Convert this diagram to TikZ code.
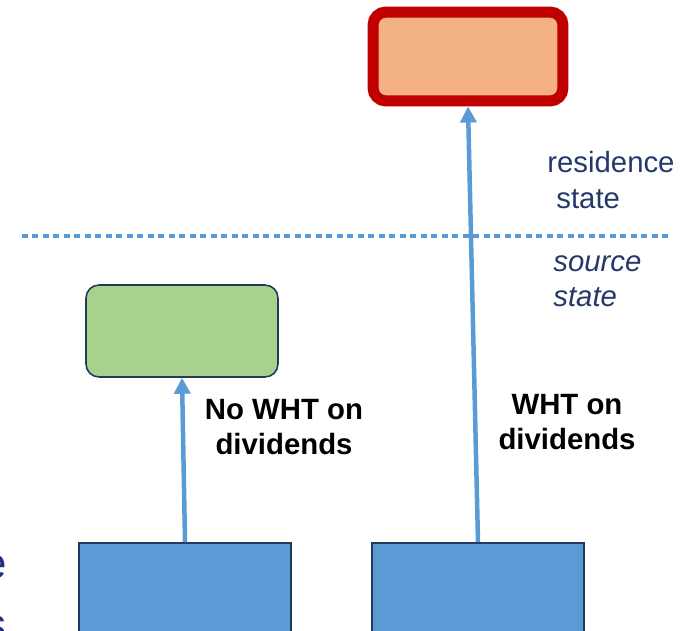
\documentclass[tikz,border=0pt]{standalone}
\usepackage{fontspec}
\setmainfont{Liberation Sans}
\usetikzlibrary{positioning,calc}
\usetikzlibrary{arrows.meta}
\definecolor{ResRed}{RGB}{192,0,0}
\definecolor{ResPeach}{RGB}{244,177,131}
\definecolor{SrcGreen}{RGB}{169,209,142}
\definecolor{CoBlue}{RGB}{91,155,213}
\definecolor{EdgeNavy}{RGB}{34,58,94}
\definecolor{TxtNavy}{RGB}{36,56,106}
\definecolor{CutBlue}{RGB}{30,48,130}
\tikzset{
	resbox/.style={draw=ResRed,fill=ResPeach,line width=0.22cm,rounded corners=0.26cm,
		minimum width=3.8cm,minimum height=1.78cm,inner sep=0pt},
	srcbox/.style={draw=EdgeNavy,fill=SrcGreen,line width=0.9pt,rounded corners=0.26cm,
		minimum width=3.84cm,minimum height=1.84cm,inner sep=0pt},
	cobox/.style={draw=EdgeNavy,fill=CoBlue,line width=1.1pt,
		minimum width=4.24cm,minimum height=2.34cm,inner sep=0pt},
	flow/.style={draw=CoBlue,line width=0.09cm,-{Triangle[length=0.32cm,width=0.32cm]}},
	border/.style={draw=CoBlue,line width=0.08cm,dash pattern=on 0.12cm off 0.09cm},
	lbl/.style={font=\fontsize{16.7}{20}\selectfont\bfseries,align=center,inner sep=0pt},
	side/.style={font=\fontsize{16.7}{20}\selectfont,text=TxtNavy,align=left,inner sep=0pt,anchor=west},
}

\begin{document}
\begin{tikzpicture}[x=0.02cm,y=-0.02cm]
	\useasboundingbox (0,0) rectangle (682,631);
	\clip (0,0) rectangle (682,631);
	% boxes
	\node[resbox] (res) at (468,56.5) {};
	\node[srcbox] (src) at (182,331) {};
	\node[cobox] (lco) at (185,601.5) {};
	\node[cobox] (rco) at (478,601.5) {};
	% dividend flows
	\draw[flow] (lco.north) -- (src.south);
	\draw[flow] (rco.north) -- (res.south);
	% border between the states
	\coordinate (bl) at (22,236);
	\coordinate (br) at (668,236);
	\draw[border] (bl) -- (br);
	\node[side] (restxt) at (547,180) {residence\\\hspace*{0.18cm}state};
	\node[side,font=\fontsize{16.7}{20}\selectfont\itshape] (srctxt) at (553,281) {source\\state};
	\node[lbl] (nowht) at (284,427) {No WHT on\\dividends};
	\node[lbl] (wht) at (567,422) {WHT on\\dividends};
	% cut-off text at the left edge
	\foreach \t/\y [count=\i] in {e/567,s/628}
	\node[text=CutBlue,font=\fontsize{25}{30}\selectfont,inner sep=0pt,anchor=east] (cut\i) at (7,\y) {\t};
\end{tikzpicture}
\end{document}
